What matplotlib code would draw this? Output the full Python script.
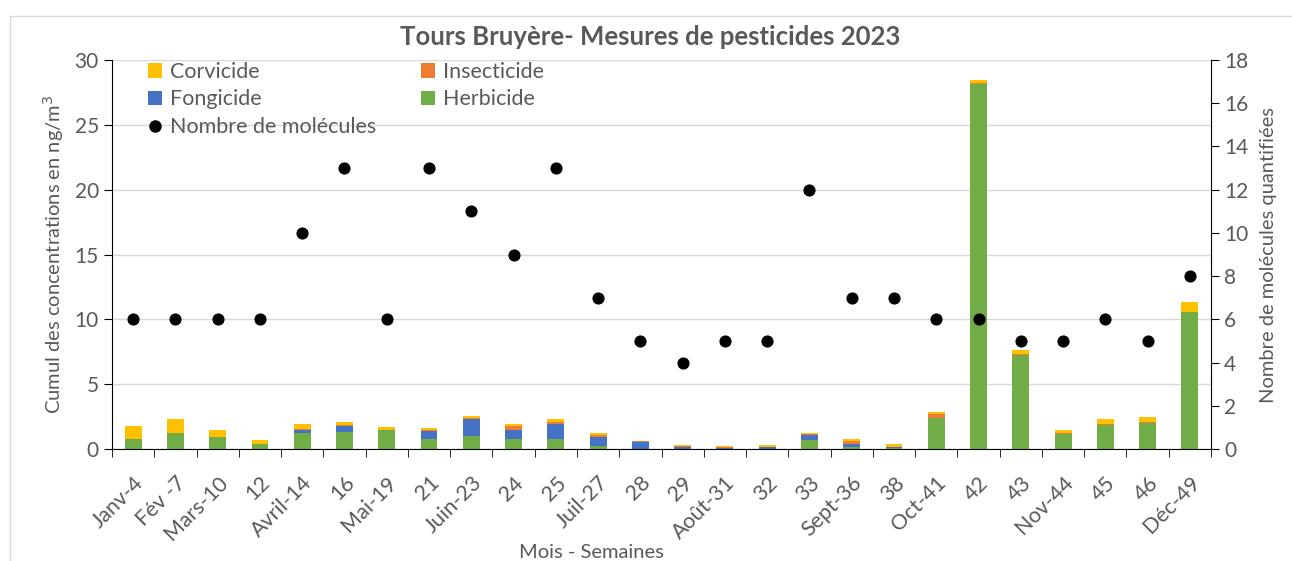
import matplotlib.pyplot as plt
import numpy as np
from matplotlib.patches import Rectangle
from matplotlib.lines import Line2D
from matplotlib.ticker import FixedLocator

plt.rcParams['font.family'] = ['Lato', 'DejaVu Sans']

# data
weeks = ["Janv-4", "Fév -7", "Mars-10", "12", "Avril-14", "16", "Mai-19", "21",
         "Juin-23", "24", "25", "Juil-27", "28", "29", "Août-31", "32", "33",
         "Sept-36", "38", "Oct-41", "42", "43", "Nov-44", "45", "46", "Déc-49"]
herbicide = [0.8, 1.2, 0.9, 0.35, 1.2, 1.35, 1.45, 0.8, 1.0, 0.8, 0.8, 0.25, 0.02,
             0.03, 0.02, 0.02, 0.7, 0.15, 0.1, 2.4, 28.15, 7.28, 1.15, 1.85, 2.0, 10.55]
fongicide = [0, 0, 0, 0, 0.3, 0.45, 0, 0.6, 1.3, 0.65, 1.1, 0.7, 0.53,
             0.12, 0.08, 0.1, 0.37, 0.27, 0.02, 0, 0, 0, 0, 0, 0, 0]
insecticide = [0, 0.05, 0.02, 0.02, 0.05, 0.08, 0.03, 0.08, 0.08, 0.33, 0.2, 0.1, 0.08,
               0.08, 0.08, 0.06, 0.08, 0.2, 0.05, 0.32, 0.05, 0.04, 0.05, 0.05, 0.05, 0.05]
corvicide = [0.95, 1.1, 0.55, 0.35, 0.4, 0.22, 0.2, 0.15, 0.13, 0.13, 0.2, 0.15, 0.02,
             0.07, 0.07, 0.1, 0.1, 0.17, 0.2, 0.13, 0.25, 0.35, 0.3, 0.45, 0.4, 0.72]
molecules = [6, 6, 6, 6, 10, 13, 6, 13, 11, 9, 13, 7, 5, 4, 5, 5, 12, 7, 7, 6, 6, 5, 5, 6, 5, 8]

GREY = '#595959'
fig = plt.figure(figsize=(12.92, 5.61), dpi=100)
ax = fig.add_axes([0.0867, 0.1996, 0.8506, 0.6934])

# outer chart border
fig.patches.append(Rectangle((0.0075, -0.01), 1.0, 0.982, transform=fig.transFigure,
                             fill=False, edgecolor='#D9D9D9', linewidth=1))

x = np.arange(len(weeks))
w = 0.4
herb = np.array(herbicide)
fong = np.array(fongicide)
ins = np.array(insecticide)
corv = np.array(corvicide)
b_h = ax.bar(x, herb, w, color='#70AD47', label='Herbicide')
b_f = ax.bar(x, fong, w, bottom=herb, color='#4472C4', label='Fongicide')
b_i = ax.bar(x, ins, w, bottom=herb + fong, color='#ED7D31', label='Insecticide')
b_c = ax.bar(x, corv, w, bottom=herb + fong + ins, color='#FFC000', label='Corvicide')

ax.set_xlim(-0.5, len(weeks) - 0.5)
ax.set_ylim(0, 30)
ax.set_yticks(range(0, 31, 5))
ax.yaxis.grid(True, color='#D9D9D9', linewidth=1)
ax.set_axisbelow(True)
ax.spines['top'].set_visible(False)
ax.spines['right'].set_visible(False)
ax.spines['left'].set_color('black')
ax.spines['bottom'].set_color('black')

ax.set_xticks(x)
ax.set_xticklabels(weeks, rotation=45, ha='right', rotation_mode='anchor', fontsize=15.5, color=GREY)
ax.tick_params(axis='x', which='major', length=0, pad=17)
ax.xaxis.set_minor_locator(FixedLocator(np.arange(-0.5, len(weeks), 1)))
ax.tick_params(axis='x', which='minor', length=6, color='black')
ax.tick_params(axis='y', labelsize=15, labelcolor=GREY, length=6, color='black')
ax.set_ylabel('Cumul des concentrations en ng/m$^3$', fontsize=14.5, color=GREY, labelpad=6)

ax2 = ax.twinx()
ax2.set_ylim(0, 18)
ax2.set_yticks(range(0, 19, 2))
ax2.tick_params(axis='y', labelsize=15, labelcolor=GREY, length=6, color='black')
for s in ['top', 'left', 'bottom']:
    ax2.spines[s].set_visible(False)
ax2.spines['right'].set_color('black')
pts = ax2.scatter(x, molecules, s=60, color='black', zorder=5, label='Nombre de molécules')
ax2.set_ylabel('Nombre de molécules quantifiées', fontsize=14.5, color=GREY, labelpad=8)

fig.text(0.458, 0.0, 'Mois - Semaines', fontsize=14.5, color=GREY, ha='center', va='bottom')
fig.text(0.503, 0.934, 'Tours Bruyère- Mesures de pesticides 2023', fontsize=18.5,
         fontweight='bold', color=GREY, ha='center', va='center')

mk = Line2D([], [], marker='o', linestyle='none', color='black', markersize=8)
handles = [b_c, b_f, mk, b_i, b_h]
labels = ['Corvicide', 'Fongicide', 'Nombre de molécules', 'Insecticide', 'Herbicide']
leg = ax.legend(handles, labels, ncol=2, loc='upper left', bbox_to_anchor=(0.0155, 1.045),
                frameon=False, fontsize=15.5, handlelength=0.65, handleheight=0.65,
                handletextpad=0.35, columnspacing=2.1, labelspacing=0.35, labelcolor=GREY)

fig.savefig('out.png', dpi=100)
